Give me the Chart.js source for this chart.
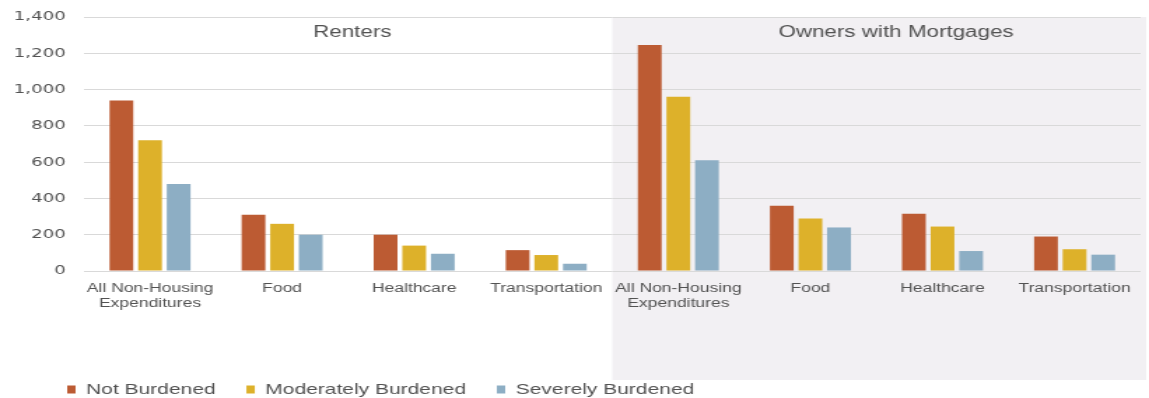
<!DOCTYPE html>
<html>
<head>
<meta charset="utf-8">
<script src="https://cdn.jsdelivr.net/npm/chart.js@4"></script>
<style>
  html, body { margin: 0; padding: 0; background: #fff; overflow: hidden; }
  canvas { display: block; }
</style>
</head>
<body>
<!-- the source picture is a horizontally stretched export, so the canvas is drawn narrow and stretched by css -->
<canvas id="chart" width="821" height="398" style="width:1149px;height:398px"></canvas>
<script>
const categories = [
  ['All Non-Housing', 'Expenditures'], 'Food', 'Healthcare', 'Transportation',
  ['All Non-Housing', 'Expenditures'], 'Food', 'Healthcare', 'Transportation'
];
const panelTitles = ['Renters', 'Owners with Mortgages'];
const notBurdened = [940, 310, 200, 115, 1245, 360, 315, 190];
const moderatelyBurdened = [720, 260, 140, 88, 960, 290, 245, 120];
const severelyBurdened = [480, 200, 95, 40, 610, 240, 110, 90];
const yTicks = [0, 200, 400, 600, 800, 1000, 1200, 1400];

const textColor = '#525252';
const sans = '"Liberation Sans", Arial, sans-serif';
const wide = '"DejaVu Sans", Verdana, sans-serif';

// grey panel behind the owners half, the two panel headings, legend nudge
const panels = {
  id: 'panels',
  afterLayout(chart) {
    chart.legend.left += 26;
    chart.legend.top += 9;
  },
  beforeDraw(chart) {
    const ctx = chart.ctx;
    const x = chart.scales.x;
    const area = chart.chartArea;
    const split = (x.getPixelForValue(3) + x.getPixelForValue(4)) / 2;
    ctx.save();
    ctx.fillStyle = '#f2f0f3';
    ctx.fillRect(split, area.top, chart.width - 2 - split, chart.height - 18 - area.top);
    ctx.restore();
  },
  afterDatasetsDraw(chart) {
    const ctx = chart.ctx;
    const x = chart.scales.x;
    const y = chart.scales.y;
    ctx.save();
    ctx.fillStyle = textColor;
    ctx.font = '16px ' + sans;
    ctx.textAlign = 'center';
    ctx.textBaseline = 'middle';
    const ty = y.getPixelForValue(1315);
    ctx.fillText(panelTitles[0], (x.getPixelForValue(1) + x.getPixelForValue(2)) / 2 + 3, ty);
    ctx.fillText(panelTitles[1], (x.getPixelForValue(5) + x.getPixelForValue(6)) / 2 + 14, ty);
    ctx.restore();
  }
};

new Chart(document.getElementById('chart'), {
  type: 'bar',
  data: {
    labels: categories,
    datasets: [
      { label: 'Not Burdened', data: notBurdened, backgroundColor: '#bc5b33' },
      { label: 'Moderately Burdened', data: moderatelyBurdened, backgroundColor: '#ddb12a' },
      { label: 'Severely Burdened', data: severelyBurdened, backgroundColor: '#8daec4' }
    ]
  },
  options: {
    responsive: false,
    animation: false,
    devicePixelRatio: 1,
    layout: { padding: { left: 0, right: 6, top: 17, bottom: 0 } },
    datasets: { bar: { categoryPercentage: 0.65, barPercentage: 0.83 } },
    scales: {
      x: {
        grid: { display: false },
        border: { display: false },
        ticks: {
          color: textColor,
          font: { family: sans, size: 12.5, lineHeight: 1.2 },
          maxRotation: 0,
          autoSkip: false,
          padding: 2
        },
        afterFit(scale) { scale.height = 80; }
      },
      y: {
        min: 0,
        max: 1400,
        afterBuildTicks(scale) { scale.ticks = yTicks.map(v => ({ value: v })); },
        grid: { color: '#d9d9d9', drawTicks: false },
        border: { display: false },
        ticks: {
          color: textColor,
          font: { family: wide, size: 13 },
          padding: 13,
          callback: v => v.toLocaleString('en-US')
        },
        afterFit(scale) {
          scale.width = 60;
          scale.paddingTop = 0;
          scale.paddingBottom = 0;
        }
      }
    },
    plugins: {
      legend: {
        position: 'bottom',
        align: 'start',
        labels: {
          color: textColor,
          font: { family: sans, size: 15 },
          boxWidth: 6,
          boxHeight: 8,
          padding: 22
        }
      },
      tooltip: { enabled: false }
    }
  },
  plugins: [panels]
});
</script>
</body>
</html>
